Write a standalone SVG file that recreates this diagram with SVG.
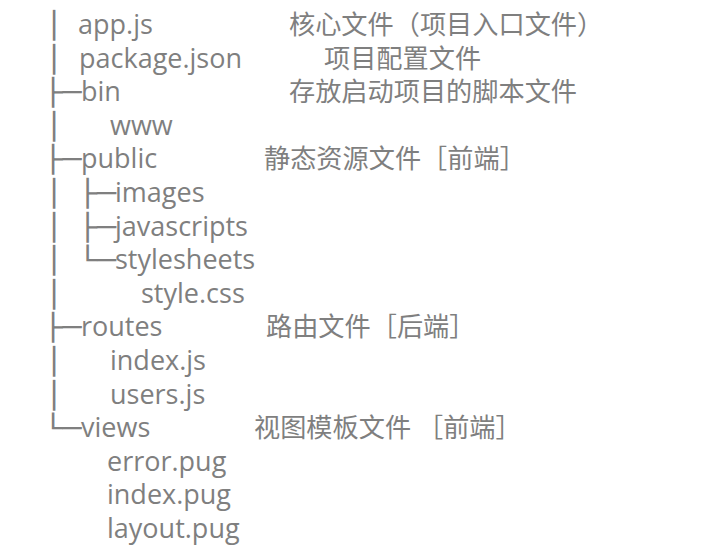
<svg xmlns="http://www.w3.org/2000/svg" width="724" height="556" viewBox="0 0 724 556">
<style>
.t{font-family:"Open Sans","Noto Sans CJK SC",sans-serif;font-size:27px;fill:#7f7f7f}
.c{font-family:"Noto Sans CJK SC","Open Sans",sans-serif;font-size:26.2px;fill:#7f7f7f}
.b{font-family:"DejaVu Sans Mono",monospace;font-size:26px;fill:#7f7f7f}
</style>
<rect width="724" height="556" fill="#ffffff"/>
<g id="connectors">
<text class="b" x="44.5" y="34" textLength="19" lengthAdjust="spacingAndGlyphs">│</text>
<text class="b" x="44.5" y="67.6" textLength="19" lengthAdjust="spacingAndGlyphs">│</text>
<text class="b" x="43.5" y="101.2" textLength="38" lengthAdjust="spacingAndGlyphs">├─</text>
<text class="b" x="44.5" y="134.8" textLength="19" lengthAdjust="spacingAndGlyphs">│</text>
<text class="b" x="43.5" y="168.4" textLength="38" lengthAdjust="spacingAndGlyphs">├─</text>
<text class="b" x="44.5" y="202" textLength="19" lengthAdjust="spacingAndGlyphs">│</text>
<text class="b" x="78" y="202" textLength="38" lengthAdjust="spacingAndGlyphs">├─</text>
<text class="b" x="44.5" y="235.6" textLength="19" lengthAdjust="spacingAndGlyphs">│</text>
<text class="b" x="78" y="235.6" textLength="38" lengthAdjust="spacingAndGlyphs">├─</text>
<text class="b" x="44.5" y="269.2" textLength="19" lengthAdjust="spacingAndGlyphs">│</text>
<text class="b" x="78" y="269.2" textLength="38" lengthAdjust="spacingAndGlyphs">└─</text>
<text class="b" x="44.5" y="302.8" textLength="19" lengthAdjust="spacingAndGlyphs">│</text>
<text class="b" x="43.5" y="336.4" textLength="38" lengthAdjust="spacingAndGlyphs">├─</text>
<text class="b" x="44.5" y="370" textLength="19" lengthAdjust="spacingAndGlyphs">│</text>
<text class="b" x="44.5" y="403.6" textLength="19" lengthAdjust="spacingAndGlyphs">│</text>
<text class="b" x="43.5" y="437.2" textLength="38" lengthAdjust="spacingAndGlyphs">└─</text>
</g>
<g id="app-js"><text class="t" x="78" y="34">app.js</text><text class="c" x="289" y="34">核心文件（项目入口文件）</text></g>
<g id="package-json"><text class="t" x="79" y="67.6">package.json</text><text class="c" x="324" y="67.6">项目配置文件</text></g>
<g id="bin"><text class="t" x="81" y="101.2">bin</text><text class="c" x="289" y="101.2">存放启动项目的脚本文件</text></g>
<g id="www"><text class="t" x="110" y="134.8">www</text></g>
<g id="public"><text class="t" x="81" y="168.4">public</text><text class="c" x="264" y="168.4">静态资源文件［前端］</text></g>
<g id="images"><text class="t" x="115" y="202">images</text></g>
<g id="javascripts"><text class="t" x="115" y="235.6">javascripts</text></g>
<g id="stylesheets"><text class="t" x="115" y="269.2">stylesheets</text></g>
<g id="style-css"><text class="t" x="141" y="302.8">style.css</text></g>
<g id="routes"><text class="t" x="81" y="336.4">routes</text><text class="c" x="266" y="336.4">路由文件［后端］</text></g>
<g id="routes-index-js"><text class="t" x="110" y="370">index.js</text></g>
<g id="users-js"><text class="t" x="110" y="403.6">users.js</text></g>
<g id="views"><text class="t" x="81" y="437.2">views</text><text class="c" x="254" y="437.2">视图模板文件 ［前端］</text></g>
<g id="error-pug"><text class="t" x="107" y="470.8">error.pug</text></g>
<g id="index-pug"><text class="t" x="107" y="504.4">index.pug</text></g>
<g id="layout-pug"><text class="t" x="107" y="538">layout.pug</text></g>
</svg>
